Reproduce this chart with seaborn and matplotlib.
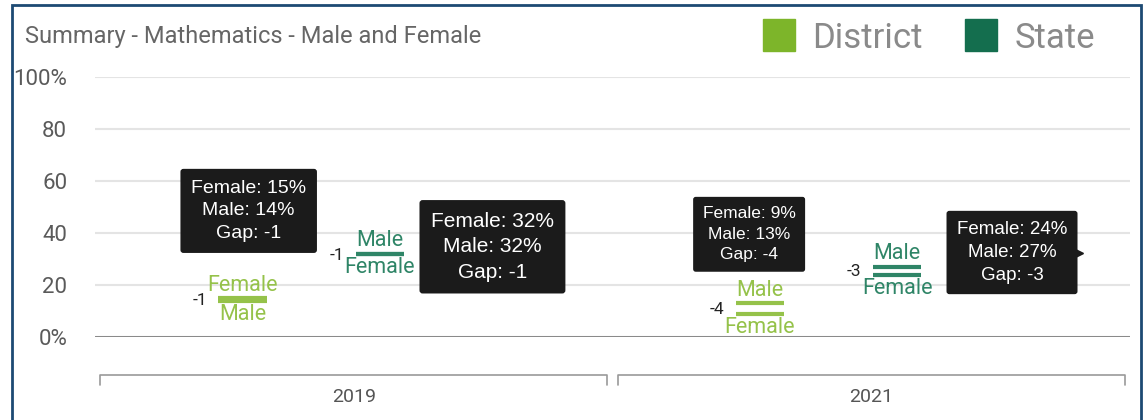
import numpy as np
import pandas as pd
import matplotlib
matplotlib.use("Agg")
import matplotlib.pyplot as plt
import matplotlib.patches as mpatches
from matplotlib.lines import Line2D
import matplotlib.transforms as mtrans
import seaborn as sns

# data
years = ["2019", "2019", "2021", "2021"]
levels = ["District", "State", "District", "State"]
female = [15, 32, 9, 24]
male = [14, 32, 13, 27]
gaps = [-1, -1, -4, -3]
ytick_labels = ["0%", "20", "40", "60", "80", "100%"]

# styles
legend_colors = {"District": "#7db52a", "State": "#146e4e"}
mark_colors = {"District": "#95c24a", "State": "#2f8567"}
level_offset = {"District": -0.215, "State": 0.05}
tip_dx = [0.012, 0.218, -0.021, 0.222]
tip_dy = [34, 2.7, 28.5, 7]
tip_size = [14, 15, 12.5, 13.5]

year_list = sorted(set(years))
year_idx = {y: i for i, y in enumerate(year_list)}
xpos = [year_idx[y] + level_offset[l] for y, l in zip(years, levels)]

rows = []
for x, lv, f, m in zip(xpos, levels, female, male):
    rows.append({"x": x, "level": lv, "sex": "Female", "value": f})
    rows.append({"x": x, "level": lv, "sex": "Male", "value": m})
df = pd.DataFrame(rows)

sns.set_theme(style="white")
plt.rcParams["font.family"] = ["Roboto", "DejaVu Sans"]

fig = plt.figure(figsize=(11.47, 4.2), dpi=100)
fig.patch.set_facecolor("white")
ax = fig.add_axes([95 / 1147, (420 - 337) / 420, 1035 / 1147, 260 / 420])

sns.scatterplot(data=df, x="x", y="value", hue="level", palette=mark_colors,
                marker="_", s=1200, linewidth=3, legend=False, ax=ax, zorder=3)

ax.set_xlim(-0.5, 1.5)
ax.set_ylim(0, 100)
ax.set_yticks(np.arange(0, 101, 20))
ax.set_yticklabels(ytick_labels, fontsize=16, color="#5a5a5a")
ax.tick_params(axis="y", length=0, pad=20)
ax.set_xticks([])
ax.set_xlabel("")
ax.set_ylabel("")
for s in ax.spines.values():
    s.set_visible(False)
for v in np.arange(20, 101, 20):
    ax.axhline(v, color="#e4e4e4", lw=1.5, zorder=0)
ax.axhline(0, color="#8a8a8a", lw=2.2, zorder=1)

# labels above/below each mark and gap numbers
for x, lv, f, m, g in zip(xpos, levels, female, male, gaps):
    c = mark_colors[lv]
    if m >= f:
        top_lab, bot_lab = "Male", "Female"
    else:
        top_lab, bot_lab = "Female", "Male"
    hi, lo = max(f, m), min(f, m)
    ax.text(x, hi + 0.9, top_lab, ha="center", va="bottom", fontsize=15.5,
            color=c, zorder=4, clip_on=False)
    ax.text(x, lo - 1.2, bot_lab, ha="center", va="top", fontsize=15.5,
            color=c, zorder=4, clip_on=False)
    ax.text(x - 0.069, (f + m) / 2 - 0.5, str(g), ha="right", va="center",
            fontsize=12.5, color="#222222", zorder=4)

# tooltips
tips = []
for i, (x, f, m, g) in enumerate(zip(xpos, female, male, gaps)):
    txt = f"Female: {f}%\nMale: {m}%\nGap: {g}"
    t = ax.text(x + tip_dx[i], (f + m) / 2 + tip_dy[i], txt, ha="center", va="center",
                fontsize=tip_size[i], color="white", family=["Liberation Sans", "DejaVu Sans"],
                linespacing=1.45, zorder=6,
                bbox=dict(boxstyle="round,pad=0.55,rounding_size=0.15", fc="#1b1b1b", ec="none"))
    tips.append(t)

# little pointer on the last tooltip
fig.canvas.draw()
bb = tips[-1].get_bbox_patch().get_window_extent().transformed(ax.transData.inverted())
ax.plot([bb.x1 - 0.002], [(bb.y0 + bb.y1) / 2], marker=">", ms=10, color="#1b1b1b",
        zorder=6, clip_on=False)

# year brackets
tr = mtrans.blended_transform_factory(ax.transData, ax.transAxes)
for y in year_list:
    i = year_idx[y]
    x0, x1 = i - 0.49, i + 0.49
    ax.plot([x0, x0, x1, x1], [-0.185, -0.146, -0.146, -0.185], transform=tr,
            color="#9a9a9a", lw=1.2, clip_on=False)
    ax.text(i, -0.23, y, transform=tr, ha="center", va="center",
            fontsize=14, color="#555555")

# title and legend
fig.text(25 / 1147, (420 - 37) / 420, "Summary - Mathematics - Male and Female",
         ha="left", va="center", fontsize=17, color="#666666")
handles = [Line2D([], [], marker="s", ls="", markersize=23, color=legend_colors[k],
                  label=k) for k in ["District", "State"]]
fig.legend(handles=handles, loc="center right", bbox_to_anchor=(1126 / 1147, (420 - 38) / 420),
           ncol=2, frameon=False, fontsize=25, labelcolor="#8a8a8a",
           handletextpad=0.45, columnspacing=1.2, handlelength=1.0)

# outer border
fig.patches.append(mpatches.Rectangle((12 / 1147, -0.02), 1129 / 1147, (420 - 5) / 420 + 0.02,
                                      transform=fig.transFigure, fill=False,
                                      ec="#1d4a73", lw=2))

fig.savefig("out.png", dpi=100)
